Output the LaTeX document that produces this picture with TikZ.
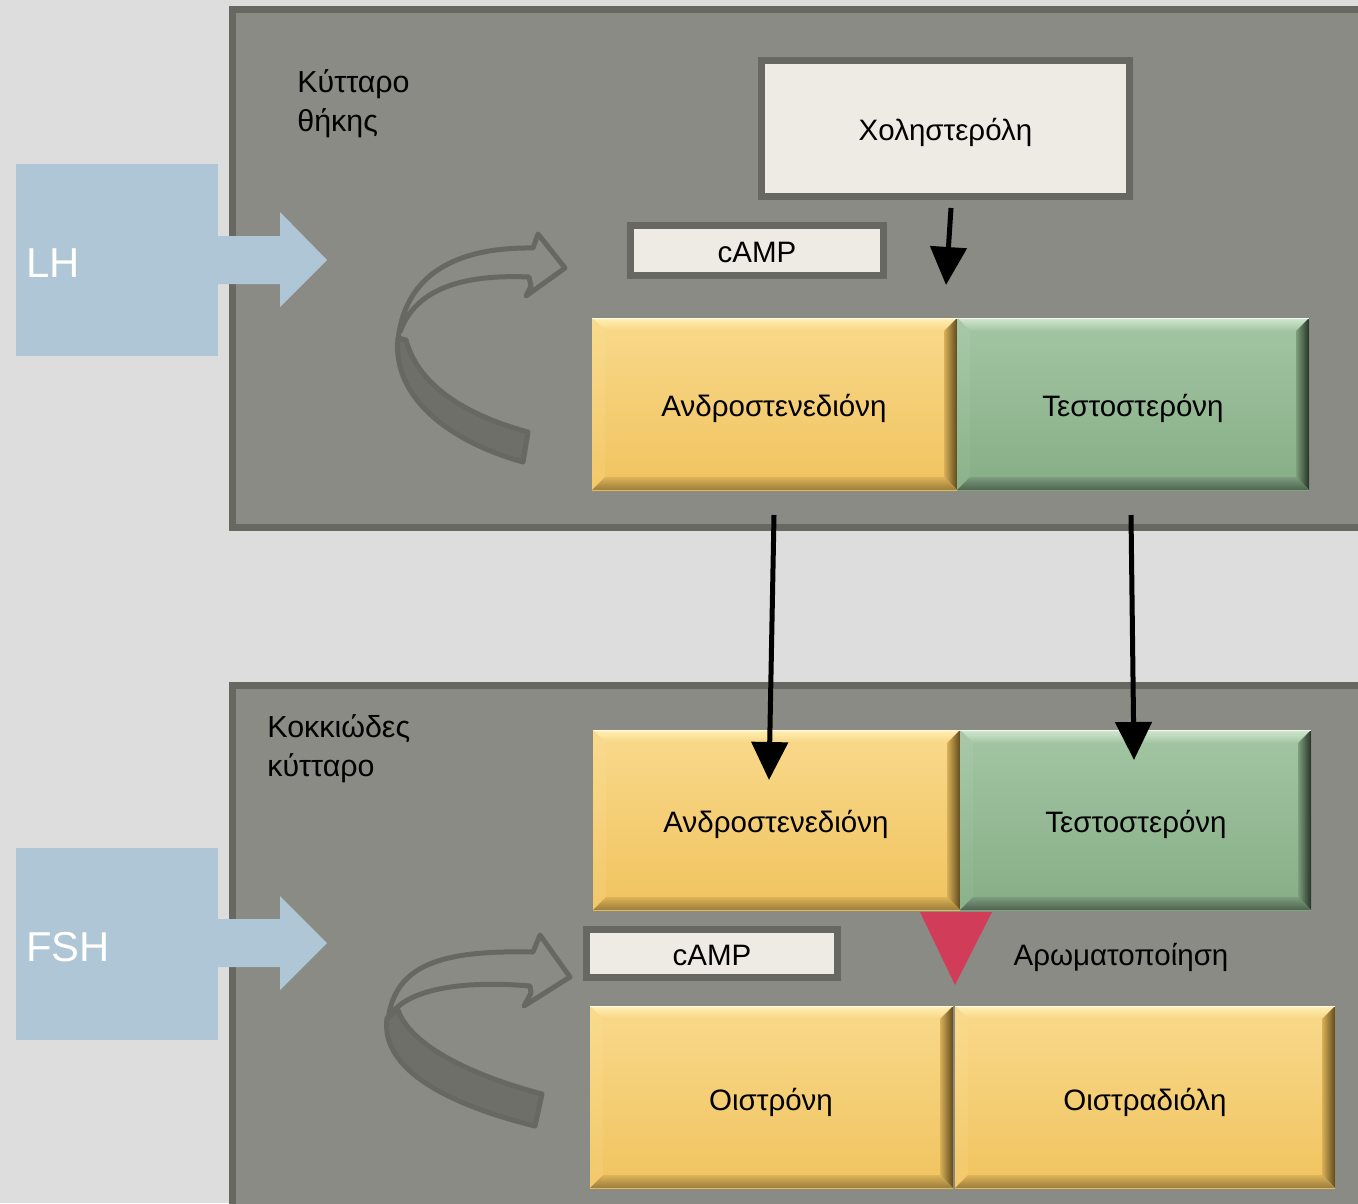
\documentclass[tikz,border=0pt]{standalone}
\usepackage{fontspec}
\setmainfont{Liberation Sans}
\usetikzlibrary{arrows.meta,calc}
\definecolor{bg}{HTML}{DDDDDD}
\definecolor{cellfill}{HTML}{8A8B84}
\definecolor{cellline}{HTML}{676862}
\definecolor{boxfill}{HTML}{EEEBE4}
\definecolor{hormone}{HTML}{AEC6D5}
\definecolor{bandfill}{HTML}{6E6F69}
\definecolor{redtri}{HTML}{D13D58}
% yellow bevel set
\definecolor{yelA}{HTML}{F9D98C}
\definecolor{yelB}{HTML}{F0C35E}
\definecolor{yelT}{HTML}{FEF0B4}
\definecolor{yelTb}{HTML}{F8D582}
\definecolor{yelL}{HTML}{F9DB8E}
\definecolor{yelLb}{HTML}{F2C869}
\definecolor{yelR}{HTML}{D9B058}
\definecolor{yelRb}{HTML}{5E4A1E}
\definecolor{yelD}{HTML}{DDB35A}
\definecolor{yelDb}{HTML}{9C7C38}
% green bevel set
\definecolor{grnA}{HTML}{A3C5A3}
\definecolor{grnB}{HTML}{86AE86}
\definecolor{grnT}{HTML}{D2E8D0}
\definecolor{grnTb}{HTML}{A2C4A2}
\definecolor{grnL}{HTML}{A8C9A8}
\definecolor{grnLb}{HTML}{8AB28A}
\definecolor{grnR}{HTML}{7C9E7C}
\definecolor{grnRb}{HTML}{263326}
\definecolor{grnD}{HTML}{7C9C7E}
\definecolor{grnDb}{HTML}{4E644E}
\newcommand\bevbox[5]{%
  \shade[top color=#5A, bottom color=#5B] (#1,#2) rectangle (#3,#4);
  \shade[top color=#5T, bottom color=#5Tb] (#1,#2) -- (#3,#2) -- (#3-13,#2+13) -- (#1+13,#2+13) -- cycle;
  \shade[top color=#5L, bottom color=#5Lb] (#1,#2) -- (#1+13,#2+13) -- (#1+13,#4-13) -- (#1,#4) -- cycle;
  \shade[left color=#5R, right color=#5Rb] (#3,#2) -- (#3,#4) -- (#3-13,#4-13) -- (#3-13,#2+13) -- cycle;
  \shade[top color=#5D, bottom color=#5Db] (#1,#4) -- (#3,#4) -- (#3-13,#4-13) -- (#1+13,#4-13) -- cycle;
  \draw[white!70!#5T, line width=0.03cm] (#1,#2+0.5) -- (#3,#2+0.5);
}
\tikzset{
  cell/.style={fill=cellfill, draw=cellline, line width=0.14cm},
  labelbox/.style={fill=boxfill, draw=cellline, line width=0.14cm},
  txt/.style={font=\fontsize{16.8}{22}\selectfont, text=black, inner sep=0pt},
  celltxt/.style={font=\fontsize{17.3}{22.2}\selectfont, text=black, inner sep=0pt, align=left, anchor=west},
  hormtxt/.style={font=\fontsize{23.8}{28}\selectfont, text=white, inner sep=0pt, anchor=west},
  flow/.style={line width=0.1cm, -{Triangle[width=0.72cm,length=0.76cm]}},
  curvline/.style={draw=cellline, line width=0.1cm, line join=round},
}
\begin{document}
\begin{tikzpicture}[x=0.02cm,y=-0.02cm]
\useasboundingbox (0,0) rectangle (1358,1203);
\fill[bg] (0,0) rectangle (1358,1203);
\begin{scope}
\clip (0,0) rectangle (1358,1203);
% cells
\draw[cell] (232.5,9.5) rectangle (1380,527.5);
\draw[cell] (232.5,685.5) rectangle (1380,1230);
\end{scope}
% hormone boxes and arrows
\fill[hormone] (16,164) rectangle (218,356);
\fill[hormone] (217,236) -- (280,236) -- (280,212) -- (327,260) -- (280,307) -- (280,284) -- (217,284) -- cycle;
\node[hormtxt] (lh) at (26,263) {LH};
\fill[hormone] (16,848) rectangle (218,1040);
\fill[hormone] (217,919) -- (280,919) -- (280,896) -- (327,943) -- (280,990) -- (280,967) -- (217,967) -- cycle;
\node[hormtxt] (fsh) at (26,947) {FSH};
% cell labels
\node[celltxt] (theca) at (297,103.5) {Κύτταρο\\θήκης};
\node[celltxt] (gran) at (267,748.5) {Κοκκιώδες\\κύτταρο};
% curved arrows (top)
\filldraw[curvline, fill=bandfill] (398,338) .. controls (392,395) and (445,440) .. (523,462) -- (528,432) .. controls (465,415) and (418,385) .. (406,340) -- cycle;
\draw[curvline] (398,340) .. controls (405,275) and (455,247) .. (533,248) -- (538,234) -- (565,268) -- (526,296) -- (531,286) -- (529,277) .. controls (460,274) and (415,290) .. (400,332);
% curved arrows (bottom)
\filldraw[curvline, fill=bandfill] (387,1018) .. controls (380,1070) and (450,1105) .. (535,1126) -- (542,1094) .. controls (470,1075) and (410,1045) .. (398,1010) -- cycle;
\draw[curvline] (388,1020) .. controls (395,965) and (440,950) .. (533,952) -- (540,935) -- (570,977) -- (524,1006) -- (531,993) -- (530,986) .. controls (460,980) and (410,990) .. (393,1012);
% label boxes
\draw[labelbox] (761.5,60.5) rectangle (1129.5,196.5);
\node[txt] (chol) at (945.5,132) {Χοληστερόλη};
\draw[labelbox] (630.5,225.5) rectangle (883.5,275.5);
\node[txt] (camp1) at (757,252) {cAMP};
\draw[labelbox] (586.5,929.5) rectangle (837.5,977.5);
\node[txt] (camp2) at (712,955) {cAMP};
% bevel boxes
\bevbox{592}{318}{957}{490}{yel}
\bevbox{957}{318}{1309}{490}{grn}
\node[txt] (andro1) at (774,408) {Ανδροστενεδιόνη};
\node[txt] (testo1) at (1133,408) {Τεστοστερόνη};
\bevbox{593}{730}{960}{910}{yel}
\bevbox{960}{730}{1311}{910}{grn}
\node[txt] (andro2) at (776,824) {Ανδροστενεδιόνη};
\node[txt] (testo2) at (1136,824) {Τεστοστερόνη};
\bevbox{590}{1006}{953}{1188}{yel}
\bevbox{955}{1006}{1335}{1188}{yel}
\node[txt] (estrone) at (771,1102) {Οιστρόνη};
\node[txt] (estradiol) at (1145,1102) {Οιστραδιόλη};
% aromatization
\fill[redtri] (920,912) -- (992,912) -- (955,985) -- cycle;
\node[txt] (arom) at (1121,957) {Αρωματοποίηση};
% flow arrows
\coordinate (cholOut) at (951,208);
\coordinate (cholIn) at (946,285);
\coordinate (a1out) at (774,515);
\coordinate (a2in) at (769,780);
\coordinate (t1out) at (1131,515);
\coordinate (t2in) at (1134,760);
\draw[flow] (cholOut) -- (cholIn);
\draw[flow] (a1out) -- (a2in);
\draw[flow] (t1out) -- (t2in);
\end{tikzpicture}
\end{document}
